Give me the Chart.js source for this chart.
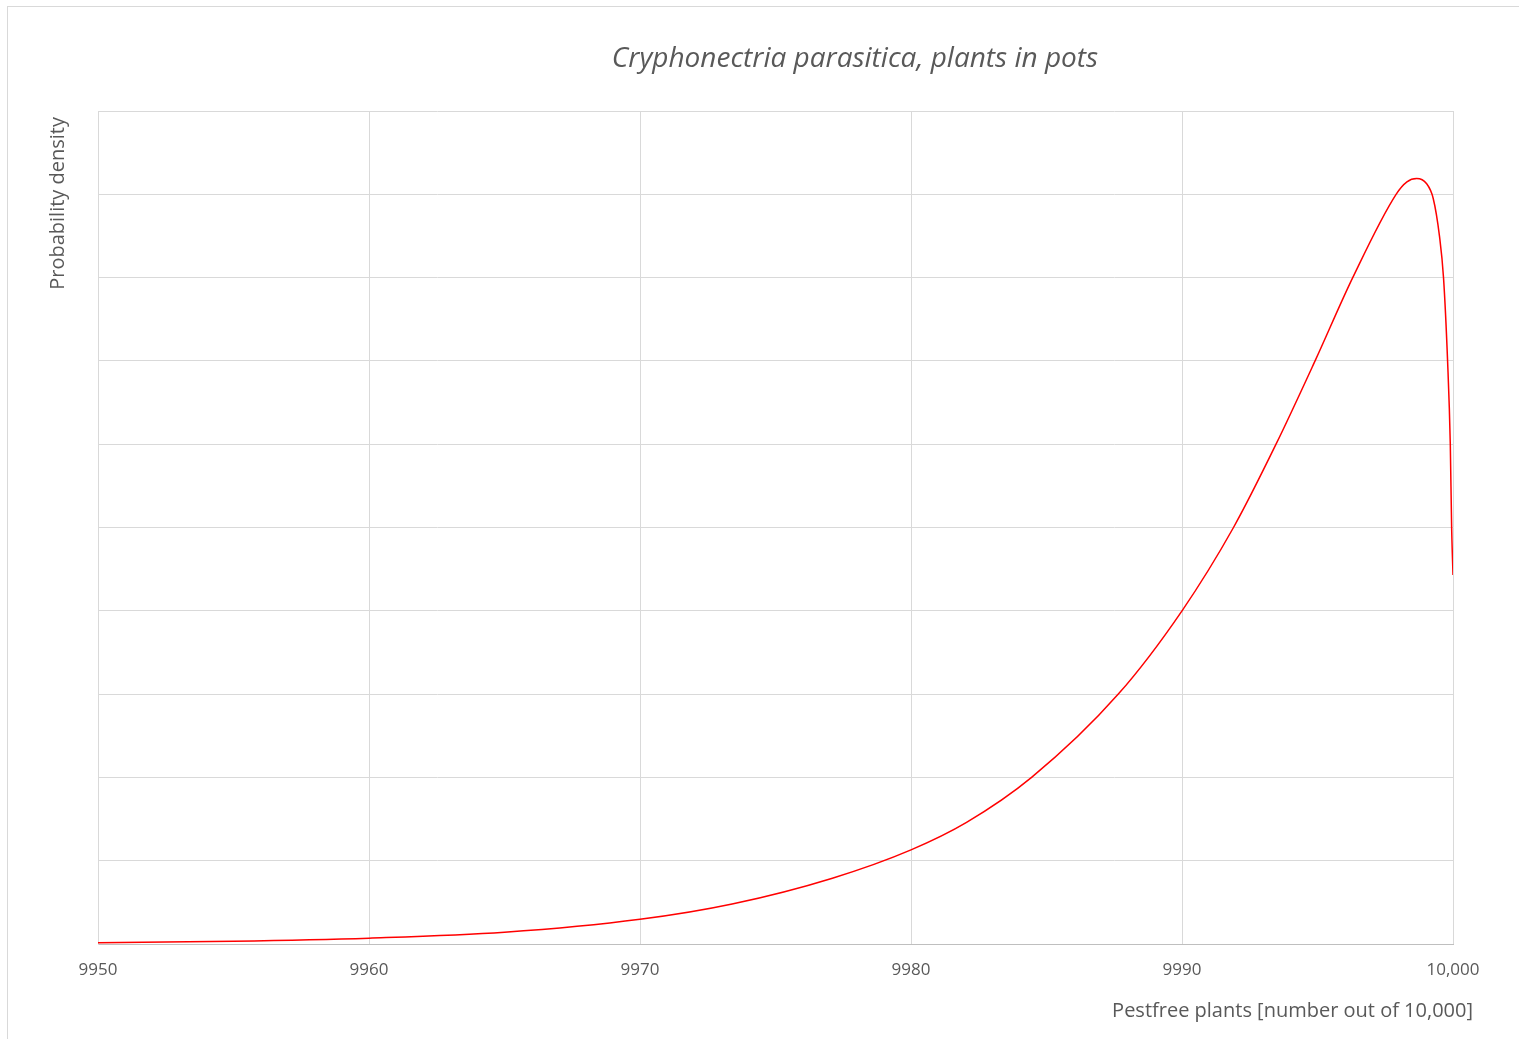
<!DOCTYPE html>
<html>
<head>
<meta charset="utf-8">
<script src="https://cdn.jsdelivr.net/npm/chart.js@4.4.1/dist/chart.umd.min.js"></script>
<style>
  html, body { margin:0; padding:0; background:#fff; }
  #wrap { width:1519px; height:1039px; position:relative; }
</style>
</head>
<body>
<div id="wrap"><canvas id="chart" width="1519" height="1039"></canvas></div>
<script>
// === Data ===
const pestfree = [9950, 9955, 9960, 9965, 9970, 9973.4, 9977.1, 9980, 9982.05,
  9984.45, 9987.65, 9990, 9991.9, 9993.47, 9994.91, 9996.3, 9997.9, 9998.3, 9998.66,
  9999.02, 9999.27, 9999.5, 9999.65, 9999.8, 9999.9, 9999.95, 10000];
const density = [0.016, 0.033, 0.07, 0.14, 0.296, 0.48, 0.79, 1.13, 1.46,
  2.0, 3.0, 4.0, 5.0, 6.0, 7.0, 8.0, 9.0, 9.15, 9.19,
  9.13, 8.95, 8.5, 8.0, 7.0, 6.0, 5.0, 4.43];
const xTicks = [9950, 9960, 9970, 9980, 9990, 10000];
const xTickLabels = ['9950', '9960', '9970', '9980', '9990', '10,000'];

const chartTitle = 'Cryphonectria parasitica, plants in pots';
const xTitle = 'Pestfree plants [number out of 10,000]';
const yTitle = 'Probability density';

const grey = '#595959';
const font = '"Open Sans", "Liberation Sans", sans-serif';

// bingkai luar seperti Excel + judul sumbu
const frame = {
  id: 'frame',
  beforeDraw(chart){
    const c = chart.ctx;
    c.save();
    c.strokeStyle = '#d9d9d9';
    c.lineWidth = 1;
    c.strokeRect(7.5, 6.5, 1530, 1050);
    c.restore();
  },
  afterLayout(chart){
    // geser judul ke tengah seperti di Excel
    if (chart.titleBlock) { chart.titleBlock.left = 191; chart.titleBlock.right = 1519; }
  },
  afterDraw(chart){
    const c = chart.ctx;
    c.save();
    c.fillStyle = grey;
    c.font = '20px ' + font;
    c.textBaseline = 'middle';
    c.textAlign = 'right';
    c.fillText(xTitle, 1473, 1011);
    c.translate(58, 117);
    c.rotate(-Math.PI / 2);
    c.fillText(yTitle, 0, 0);
    c.restore();
  }
};

new Chart(document.getElementById('chart').getContext('2d'), {
  type: 'line',
  data: {
    datasets: [{
      label: 'density',
      data: pestfree.map((x, i) => ({ x: x, y: density[i] })),
      borderColor: '#ff0000', borderWidth: 1.5,
      pointRadius: 0, cubicInterpolationMode: 'monotone', fill: false
    }]
  },
  options: {
    responsive: false, animation: false,
    layout: { padding: { left: 98, right: 66, top: 0, bottom: 0 } },
    plugins: {
      legend: { display: false },
      tooltip: { enabled: false },
      title: {
        display: true,
        text: chartTitle,
        color: grey,
        font: { family: font, size: 28, style: 'italic', weight: 'normal', lineHeight: 1.2 },
        padding: { top: 42, bottom: 35.4 }
      }
    },
    scales: {
      x: {
        type: 'linear', min: 9950, max: 10000,
        afterBuildTicks: (s) => { s.ticks = xTicks.map(v => ({ value: v })); },
        afterFit: (s) => { s.height = 95; },
        ticks: {
          color: grey, padding: 16,
          font: { family: font, size: 17 },
          maxRotation: 0, autoSkip: false,
          callback: (v, i) => xTickLabels[i]
        },
        grid: { color: '#d9d9d9', drawTicks: false, lineWidth: 1 },
        border: { color: '#bfbfbf', width: 1 }
      },
      y: {
        type: 'linear', min: 0, max: 10,
        afterFit: (s) => { s.width = 0; },
        ticks: { display: false, stepSize: 1 },
        grid: { color: '#d9d9d9', drawTicks: false, lineWidth: 1 },
        border: { color: '#d9d9d9', width: 1 }
      }
    }
  },
  plugins: [frame]
});
</script>
</body>
</html>
